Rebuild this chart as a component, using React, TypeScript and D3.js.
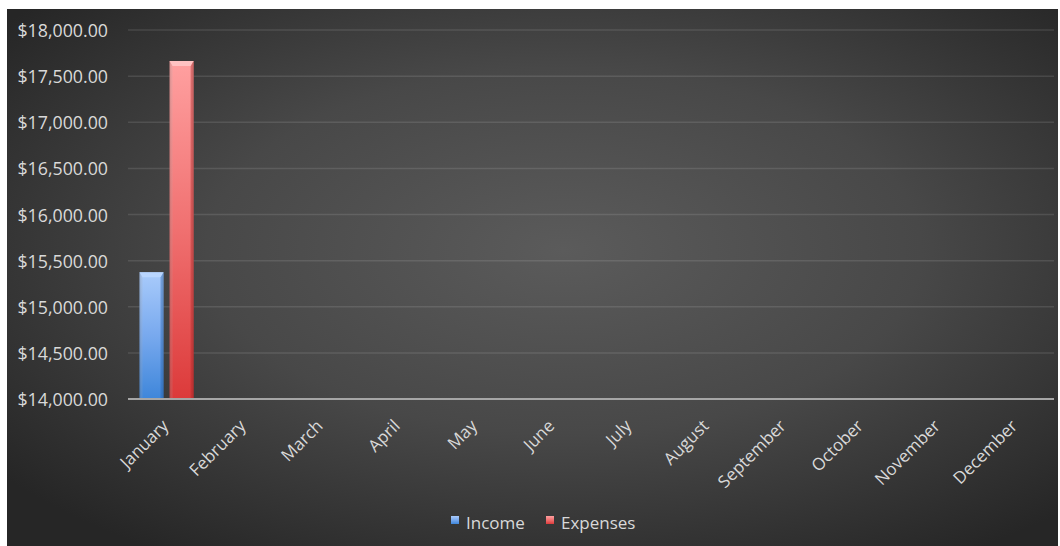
import React from "react";
import * as d3 from "d3";

const months = ["January","February","March","April","May","June","July","August","September","October","November","December"];
const seriesNames = ["Income", "Expenses"];
const incomeValues: (number | null)[] = [15373, null, null, null, null, null, null, null, null, null, null, null];
const expenseValues: (number | null)[] = [17664, null, null, null, null, null, null, null, null, null, null, null];
const yTicks = [14000, 14500, 15000, 15500, 16000, 16500, 17000, 17500, 18000];

const W = 1060, H = 546;
const FONT = "'Open Sans', Lato, sans-serif";

export default function App() {
  const x = d3.scaleBand<string>().domain(months).range([128, 1054]).paddingInner(0).paddingOuter(0);
  const x1 = d3.scaleBand<string>().domain(seriesNames).range([11.5, x.bandwidth() - 11.5]).paddingInner(0.2);
  const y = d3.scaleLinear().domain([14000, 18000]).range([399, 30]);
  const fmt = (v: number) => "$" + d3.format(",.2f")(v);
  const series = [
    { name: "Income", values: incomeValues, grad: "gInc", top: "#b9d6ff", side: "#2f6fc0" },
    { name: "Expenses", values: expenseValues, grad: "gExp", top: "#ffc2c2", side: "#b82c2c" },
  ];
  return (
    <svg width={W} height={H} style={{ position: "absolute", left: 0, top: 0 }}>
      <defs>
        <radialGradient id="bg" cx="0.53" cy="0.45" r="0.68">
          <stop offset="0" stopColor="#5b5b5b" />
          <stop offset="0.5" stopColor="#484848" />
          <stop offset="1" stopColor="#262626" />
        </radialGradient>
        <linearGradient id="gInc" x1="0" y1="0" x2="0" y2="1">
          <stop offset="0" stopColor="#a9cbfb" />
          <stop offset="0.5" stopColor="#78a9ee" />
          <stop offset="1" stopColor="#3e86da" />
        </linearGradient>
        <linearGradient id="gExp" x1="0" y1="0" x2="0" y2="1">
          <stop offset="0" stopColor="#ffa0a0" />
          <stop offset="0.5" stopColor="#f07070" />
          <stop offset="1" stopColor="#dc3a3a" />
        </linearGradient>
        <linearGradient id="shade" x1="0" y1="0" x2="1" y2="0">
          <stop offset="0" stopColor="#000" stopOpacity="0.18" />
          <stop offset="0.15" stopColor="#000" stopOpacity="0" />
          <stop offset="0.85" stopColor="#000" stopOpacity="0" />
          <stop offset="1" stopColor="#000" stopOpacity="0.2" />
        </linearGradient>
      </defs>
      <rect x={0} y={0} width={W} height={H} fill="#ffffff" />
      <rect x={7} y={9} width={1051} height={537} fill="url(#bg)" />
      {yTicks.map((t) => (
        <g key={t}>
          {t !== 14000 && (
            <line x1={128} x2={1054} y1={y(t)} y2={y(t)} stroke="#ffffff" strokeOpacity={0.11} strokeWidth={1.5} />
          )}
          <text x={108} y={y(t)} textAnchor="end" dominantBaseline="central" fill="#d9d9d9" fontFamily={FONT} fontSize={17.8}>
            {fmt(t)}
          </text>
        </g>
      ))}
      {series.map((s) =>
        s.values.map((v, i) => {
          if (v == null) return null;
          const bx = (x(months[i]) as number) + (x1(s.name) as number);
          const bw = x1.bandwidth();
          const by = y(v);
          const bh = y(14000) - by;
          const bev = 5;
          return (
            <g key={s.name + i}>
              <rect x={bx} y={by} width={bw} height={bh} fill={`url(#${s.grad})`} />
              <rect x={bx} y={by} width={bw} height={bh} fill="url(#shade)" />
              <polygon
                points={`${bx},${by} ${bx + bw},${by} ${bx + bw - 3},${by + bev} ${bx + 3},${by + bev}`}
                fill={s.top}
              />
              <polygon points={`${bx},${by} ${bx + 3},${by + bev} ${bx + 3},${by + bh} ${bx},${by + bh}`} fill="#ffffff" fillOpacity={0.12} />
              <polygon points={`${bx + bw},${by} ${bx + bw - 3},${by + bev} ${bx + bw - 3},${by + bh} ${bx + bw},${by + bh}`} fill={s.side} fillOpacity={0.35} />
            </g>
          );
        })
      )}
      <line x1={128} x2={1054} y1={y(14000)} y2={y(14000)} stroke="#a6a6a6" strokeWidth={2} />
      {months.map((m) => {
        const cx = (x(m) as number) + x.bandwidth() / 2;
        return (
          <text key={m} transform={`translate(${cx + 3},${427}) rotate(-45)`} textAnchor="end" fill="#d9d9d9" fontFamily={FONT} fontSize={17}>
            {m}
          </text>
        );
      })}
      <g>
        <rect x={451} y={516} width={8} height={8} fill="url(#gInc)" />
        <text x={466} y={522} dominantBaseline="central" fill="#d9d9d9" fontFamily={FONT} fontSize={17}>Income</text>
        <rect x={546} y={516} width={8} height={8} fill="url(#gExp)" />
        <text x={561} y={522} dominantBaseline="central" fill="#d9d9d9" fontFamily={FONT} fontSize={17}>Expenses</text>
      </g>
    </svg>
  );
}
